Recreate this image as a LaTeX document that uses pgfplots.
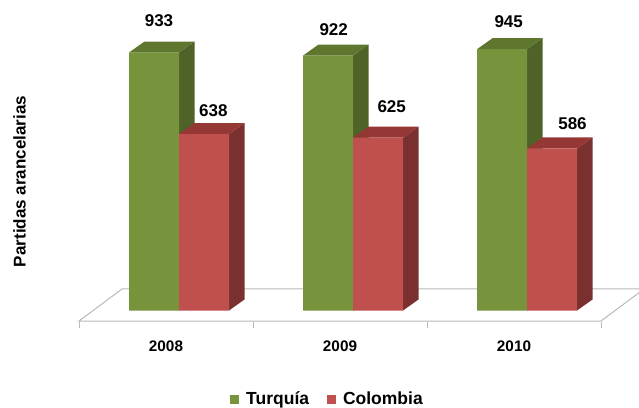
\documentclass[border=0pt]{standalone}
\usepackage{pgfplots}
\pgfplotsset{compat=1.18}
\usepackage{fontspec}
\setmainfont{Liberation Sans}
\definecolor{grfront}{RGB}{119,147,60}
\definecolor{grtop}{RGB}{95,118,47}
\definecolor{grside}{RGB}{79,98,40}
\definecolor{rdfront}{RGB}{192,80,77}
\definecolor{rdtop}{RGB}{148,55,53}
\definecolor{rdside}{RGB}{122,48,46}
\definecolor{floorc}{RGB}{185,185,185}
\begin{document}
\begin{tikzpicture}
\useasboundingbox (0pt,0pt) rectangle (639pt,407pt);
\begin{axis}[
  at={(0pt,85.44pt)}, anchor=south west,
  x=1pt, y=0.2765pt,
  xmin=0, xmax=639, ymin=-40, ymax=1123,
  enlargelimits=false,
  axis y line=none, ytick=\empty,
  axis x line*=bottom,
  x axis line style={draw=none},
  xtick={166,340,514},
  xticklabels={2008,2009,2010},
  minor xtick={79,253,427,601},
  major tick length=0pt,
  minor tick length=6pt,
  tick align=outside,
  xtick style={draw=floorc, line width=1pt},
  xticklabel style={font=\fontsize{15.3}{18}\selectfont\bfseries, yshift=-16pt},
  legend columns=2,
  legend style={draw=none, fill=none, at={(axis description cs:0.511,-0.24)}, anchor=center,
    font=\fontsize{17.5}{20}\selectfont\bfseries,
    /tikz/every odd column/.append style={column sep=7.5pt},
    /tikz/every even column/.append style={column sep=18pt},
    nodes={inner sep=0pt}},
  legend image code/.code={\fill[#1] (0pt,-4.5pt) rectangle (8pt,3.5pt);},
]
% floor
\addplot[forget plot, fill=white, draw=floorc, line width=1pt] coordinates {(79,-38) (601,-38) (644,77.8) (122,77.8)} -- cycle;
% green side and top faces
\addplot[forget plot, fill=grside, draw=none] coordinates {(179,0)(194.5,39.8)(194.5,972.8)(179,933)} -- cycle;
\addplot[forget plot, fill=grtop, draw=none] coordinates {(129,933)(144.5,972.8)(194.5,972.8)(179,933)} -- cycle;
\addplot[forget plot, fill=grside, draw=none] coordinates {(353,0)(368.5,39.8)(368.5,961.8)(353,922)} -- cycle;
\addplot[forget plot, fill=grtop, draw=none] coordinates {(303,922)(318.5,961.8)(368.5,961.8)(353,922)} -- cycle;
\addplot[forget plot, fill=grside, draw=none] coordinates {(527,0)(542.5,39.8)(542.5,984.8)(527,945)} -- cycle;
\addplot[forget plot, fill=grtop, draw=none] coordinates {(477,945)(492.5,984.8)(542.5,984.8)(527,945)} -- cycle;
% green fronts
\addplot[forget plot, ybar, bar width=50pt, bar shift=0pt, fill=grfront, draw=none] coordinates {(154,933) (328,922) (502,945)};
% red side and top faces
\addplot[forget plot, fill=rdside, draw=none] coordinates {(229,0)(244.5,39.8)(244.5,677.8)(229,638)} -- cycle;
\addplot[forget plot, fill=rdtop, draw=none] coordinates {(179,638)(194.5,677.8)(244.5,677.8)(229,638)} -- cycle;
\addplot[forget plot, fill=rdside, draw=none] coordinates {(403,0)(418.5,39.8)(418.5,664.8)(403,625)} -- cycle;
\addplot[forget plot, fill=rdtop, draw=none] coordinates {(353,625)(368.5,664.8)(418.5,664.8)(403,625)} -- cycle;
\addplot[forget plot, fill=rdside, draw=none] coordinates {(577,0)(592.5,39.8)(592.5,625.8)(577,586)} -- cycle;
\addplot[forget plot, fill=rdtop, draw=none] coordinates {(527,586)(542.5,625.8)(592.5,625.8)(577,586)} -- cycle;
% red fronts
\addplot[forget plot, ybar, bar width=50pt, bar shift=0pt, fill=rdfront, draw=none] coordinates {(204,638) (378,625) (552,586)};
% legend
\addlegendimage{grfront}
\addlegendentry{Turquía}
\addlegendimage{rdfront}
\addlegendentry{Colombia}
% value labels
\begin{scope}[every node/.style={font=\fontsize{17}{20}\selectfont\bfseries, inner sep=0pt, anchor=center}]
\node at (axis cs:159,1047) {933};
\node at (axis cs:213.3,723.7) {638};
\node at (axis cs:333.7,1016.3) {922};
\node at (axis cs:391.7,736) {625};
\node at (axis cs:508.7,1046.3) {945};
\node at (axis cs:572.5,674.5) {586};
\end{scope}
\node[rotate=90, anchor=base, inner sep=0pt, font=\fontsize{17}{20}\selectfont\bfseries] at (axis cs:25.5,466.5) {Partidas arancelarias};
\end{axis}
\end{tikzpicture}
\end{document}
